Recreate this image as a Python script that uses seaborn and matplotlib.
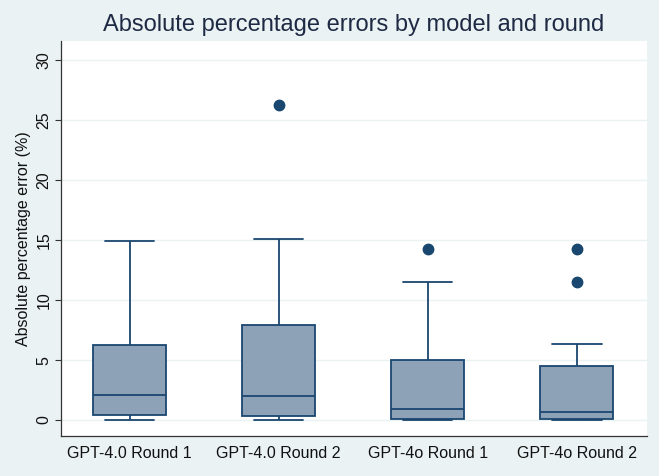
import matplotlib
matplotlib.use("Agg")
import matplotlib.pyplot as plt
import seaborn as sns
import pandas as pd

groups = ["GPT-4.0 Round 1", "GPT-4.0 Round 2", "GPT-4o Round 1", "GPT-4o Round 2"]
errors_g1 = [0.0, 0.2, 0.4, 1.2, 2.1, 4.0, 6.25, 9.5, 14.9]
errors_g2 = [0.0, 0.1, 0.3, 1.0, 2.0, 5.0, 7.9, 15.1, 26.3]
errors_g3 = [0.0, 0.02, 0.05, 0.4, 0.9, 2.5, 5.0, 11.5, 14.3]
errors_g4 = [0.0, 0.01, 0.03, 0.05, 0.2, 0.5, 0.7, 1.5, 3.0, 4.5, 6.3, 11.5, 14.3]
yticks = [0, 5, 10, 15, 20, 25, 30]

rows = []
for g, vals in zip(groups, [errors_g1, errors_g2, errors_g3, errors_g4]):
    for v in vals:
        rows.append({"group": g, "error": v})
df = pd.DataFrame(rows)

sns.set_theme(style="white")
plt.rcParams["font.family"] = ["Liberation Sans", "DejaVu Sans"]

navy = "#1A476F"
fill = "#8DA2B7"
bg = "#EAF2F3"

fig = plt.figure(figsize=(6.59, 4.76), dpi=100, facecolor=bg)
ax = fig.add_axes([0.0926, 0.084, 0.8892, 0.8299])
ax.set_facecolor("white")

sns.boxplot(data=df, x="group", y="error", order=groups, ax=ax,
            width=0.49, color=fill, saturation=1, whis=1.5,
            linecolor=navy, linewidth=1.3,
            boxprops=dict(facecolor=fill, edgecolor=navy),
            whiskerprops=dict(color=navy),
            capprops=dict(color=navy),
            medianprops=dict(color=navy),
            flierprops=dict(marker="o", markerfacecolor=navy, markeredgecolor=navy,
                            markersize=7.5),
            capwidths=0.33)

ax.set_xlim(-0.46, 3.47)
ax.set_ylim(-1.33, 31.6)
ax.set_yticks(yticks)
ax.set_yticklabels([str(t) for t in yticks], rotation=90, va="center", fontsize=11.5, color="#111111")
ax.tick_params(axis="y", length=4, width=0.8, color="#333333", left=True, pad=3)
ax.tick_params(axis="x", length=0, labelsize=11.5, labelcolor="#111111", pad=7)
ax.yaxis.grid(True, color=bg, linewidth=1)
ax.set_axisbelow(True)
for s in ["top", "right"]:
    ax.spines[s].set_visible(False)
for s in ["left", "bottom"]:
    ax.spines[s].set_color("#333333")
    ax.spines[s].set_linewidth(0.9)

ax.set_xlabel("")
ax.set_ylabel("Absolute percentage error (%)", fontsize=11.5, color="#111111", labelpad=4)
ax.set_title("Absolute percentage errors by model and round", fontsize=17, color="#1E2A44", pad=7)

fig.savefig("out.png", dpi=100, facecolor=bg)
